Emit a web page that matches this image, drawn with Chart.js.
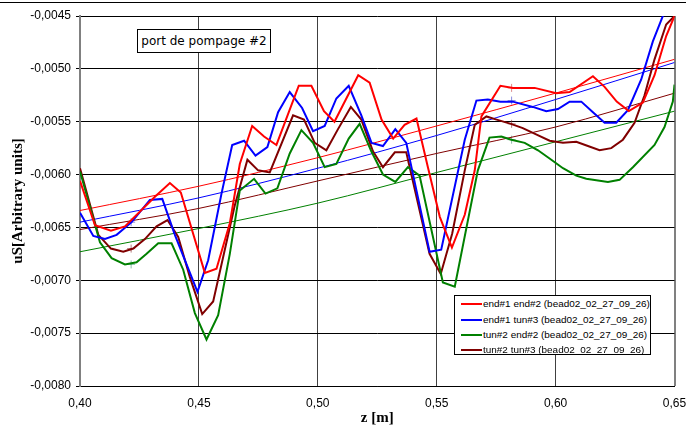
<!DOCTYPE html>
<html><head><meta charset="utf-8">
<script src="https://cdn.jsdelivr.net/npm/chart.js@4/dist/chart.umd.min.js"></script>
<style>
html,body{margin:0;padding:0;background:#fff;}
#wrap{position:relative;width:686px;height:428px;overflow:hidden;background:#fff;}
#topline{position:absolute;left:0;top:2px;width:686px;height:1px;background:#000;z-index:3;}
canvas{position:absolute;left:0;top:0;}
#note{position:absolute;left:137px;top:29px;width:132px;height:22px;border:1px solid #000;background:#fff;font-family:"DejaVu Sans",sans-serif;font-size:12px;line-height:22px;text-align:center;color:#000;z-index:2;white-space:nowrap;}
#legend{position:absolute;left:454px;top:295px;width:195px;height:58px;border:1px solid #000;background:#fff;font-family:"Liberation Sans",Arial,sans-serif;font-size:9.95px;color:#000;z-index:2;}
.row{position:absolute;left:0;width:195px;height:12px;}
.sw{position:absolute;left:6px;top:5px;width:21px;height:2px;}
.lb{position:absolute;left:28px;top:0;line-height:12px;white-space:nowrap;}
</style></head>
<body>
<div id="wrap">
<canvas id="c" width="686" height="428"></canvas>
<div id="topline"></div>
<div id="note"></div>
<div id="legend"></div>
</div>
<script>
// ---- data ----
const noteText = 'port de pompage #2';
const xTitle = 'z [m]';
const yTitle = 'uS[Arbitrary units]';
const xTickValues = [0.40, 0.45, 0.50, 0.55, 0.60, 0.65];
const xTickLabels = ['0,40', '0,45', '0,50', '0,55', '0,60', '0,65'];
const yTickValues = [-0.0080, -0.0075, -0.0070, -0.0065, -0.0060, -0.0055, -0.0050, -0.0045];
const yTickLabels = ['-0,0080', '-0,0075', '-0,0070', '-0,0065', '-0,0060', '-0,0055', '-0,0050', '-0,0045'];

const seriesLabels = [
  'end#1 end#2 (bead02_02_27_09_26)',
  'end#1 tun#3 (bead02_02_27_09_26)',
  'tun#2 end#2 (bead02_02_27_09_26)',
  'tun#2 tun#3 (bead02_02_27_09_26)'
];
const seriesColors = ['#ff0000', '#0000ff', '#008000', '#800000'];

const zRed = [0.400,0.4063,0.4130,0.4189,0.4315,0.4378,0.4424,0.4525,0.4574,0.4630,0.4672,0.4724,0.4774,0.4826,0.4920,0.4973,0.5026,0.5070,0.5170,0.5218,0.5268,0.5317,0.5365,0.5415,0.5463,0.5513,0.5564,0.5618,0.5660,0.5688,0.5768,0.5821,0.5912,0.6003,0.6059,0.6157,0.6206,0.6257,0.6308,0.6367,0.6416,0.6465,0.6500];
const yRed = [-0.00606,-0.00648,-0.00653,-0.00649,-0.00621,-0.00608,-0.00617,-0.00693,-0.00689,-0.00646,-0.00590,-0.00554,-0.00564,-0.00572,-0.00516,-0.00516,-0.00540,-0.00550,-0.00506,-0.00513,-0.00548,-0.00566,-0.00553,-0.00547,-0.00593,-0.00640,-0.00669,-0.00638,-0.00596,-0.00545,-0.00516,-0.00518,-0.00518,-0.00523,-0.00522,-0.00507,-0.00517,-0.00531,-0.00540,-0.00532,-0.00506,-0.00469,-0.00450];

const zBlue = [0.400,0.4056,0.4105,0.4154,0.4217,0.4294,0.4346,0.4399,0.4494,0.4539,0.4595,0.4640,0.4690,0.4738,0.4788,0.4833,0.4882,0.4934,0.4980,0.5029,0.5078,0.5130,0.5183,0.5226,0.5274,0.5326,0.5372,0.5470,0.5519,0.5618,0.5667,0.5715,0.5768,0.5820,0.5904,0.5961,0.6010,0.6059,0.6108,0.6157,0.6206,0.6255,0.6304,0.6360,0.6409,0.6458];
const yBlue = [-0.00636,-0.00658,-0.00661,-0.00657,-0.00645,-0.00624,-0.00623,-0.00657,-0.00711,-0.00681,-0.00618,-0.00572,-0.00568,-0.00582,-0.00574,-0.00541,-0.00522,-0.00537,-0.00559,-0.00554,-0.00528,-0.00516,-0.00544,-0.00570,-0.00573,-0.00557,-0.00570,-0.00673,-0.00671,-0.00567,-0.00530,-0.00529,-0.00531,-0.00531,-0.00536,-0.00540,-0.00538,-0.00531,-0.00531,-0.00541,-0.00551,-0.00551,-0.00539,-0.00510,-0.00474,-0.00446];

const zGreen = [0.400,0.4084,0.4133,0.4189,0.4238,0.4280,0.4329,0.4385,0.4434,0.4483,0.4532,0.4581,0.4630,0.4672,0.4732,0.4780,0.4830,0.4882,0.4931,0.4980,0.5029,0.5078,0.5130,0.5176,0.5225,0.5274,0.5326,0.5379,0.5428,0.5526,0.5576,0.5673,0.5722,0.5772,0.5814,0.5870,0.5926,0.5982,0.6031,0.6087,0.6129,0.6220,0.6269,0.6325,0.6416,0.6458,0.6493,0.6500];
const yGreen = [-0.00597,-0.00664,-0.00679,-0.00685,-0.00683,-0.00675,-0.00665,-0.00665,-0.00690,-0.00731,-0.00756,-0.00733,-0.00675,-0.00615,-0.00604,-0.00618,-0.00613,-0.00580,-0.00558,-0.00570,-0.00593,-0.00590,-0.00566,-0.00552,-0.00578,-0.00600,-0.00607,-0.00593,-0.00601,-0.00702,-0.00706,-0.00596,-0.00565,-0.00564,-0.00567,-0.00570,-0.00577,-0.00586,-0.00594,-0.00601,-0.00604,-0.00607,-0.00605,-0.00593,-0.00572,-0.00555,-0.00531,-0.00515];

const zDark = [0.400,0.4077,0.4130,0.4182,0.4224,0.4273,0.4322,0.4368,0.4413,0.4462,0.4514,0.4560,0.4650,0.4704,0.4749,0.4798,0.4896,0.4942,0.4987,0.5036,0.5085,0.5139,0.5183,0.5232,0.5274,0.5324,0.5372,0.5470,0.5517,0.5565,0.5618,0.5660,0.5709,0.5752,0.5812,0.5862,0.5918,0.5975,0.6031,0.6087,0.6136,0.6185,0.6234,0.6283,0.6332,0.6374,0.6416,0.6465,0.6500];
const yDark = [-0.00594,-0.00657,-0.00670,-0.00673,-0.00670,-0.00661,-0.00649,-0.00643,-0.00659,-0.00697,-0.00732,-0.00720,-0.00630,-0.00586,-0.00596,-0.00598,-0.00544,-0.00548,-0.00570,-0.00577,-0.00557,-0.00536,-0.00548,-0.00578,-0.00593,-0.00579,-0.00579,-0.00675,-0.00694,-0.00656,-0.00596,-0.00553,-0.00545,-0.00548,-0.00552,-0.00556,-0.00562,-0.00568,-0.00570,-0.00569,-0.00573,-0.00577,-0.00575,-0.00567,-0.00551,-0.00525,-0.00491,-0.00458,-0.00450];

// trend lines (read at grid positions)
const zFit = [0.40, 0.45, 0.50, 0.55, 0.60, 0.65];
const redFit = [-0.00634, -0.00611, -0.00584, -0.00554, -0.00523, -0.00491];
const blueFit = [-0.00645, -0.00622, -0.00594, -0.00563, -0.00529, -0.00494];
const greenFit = [-0.00673, -0.00651, -0.00627, -0.00598, -0.00569, -0.00540];
const darkFit = [-0.00652, -0.00632, -0.00606, -0.00580, -0.00555, -0.00523];

// "+" markers
const zMark = [0.4215, 0.5815];
const redMark = [null, -0.00518];
const blueMark = [-0.00645, -0.00530];
const greenMark = [-0.00685, -0.00567];
const darkMark = [-0.00670, -0.00552];

// ---- build ----
const pts = (zs, ys) => zs.map((z, i) => ({x: z, y: ys[i]}));
const mains = [[zRed, yRed], [zBlue, yBlue], [zGreen, yGreen], [zDark, yDark]];
const fits = [redFit, blueFit, greenFit, darkFit];
const marks = [redMark, blueMark, greenMark, darkMark];
const markColors = ['rgba(200,60,60,0.6)', 'rgba(60,60,200,0.6)', 'rgba(60,150,110,0.6)', 'rgba(130,40,40,0.6)'];

const datasets = [];
mains.forEach((m, i) => datasets.push({
  label: seriesLabels[i], data: pts(m[0], m[1]), borderColor: seriesColors[i],
  borderWidth: 2, pointRadius: 0, fill: false, tension: 0
}));
fits.forEach((f, i) => datasets.push({
  label: 'fit ' + i, data: pts(zFit, f), borderColor: seriesColors[i],
  borderWidth: 1, pointRadius: 0, fill: false, cubicInterpolationMode: 'monotone'
}));
marks.forEach((mk, i) => datasets.push({
  label: 'mark ' + i, data: pts(zMark, mk).filter(p => p.y !== null), showLine: false,
  pointStyle: 'cross', pointRadius: 4, pointBorderWidth: 1,
  borderColor: markColors[i], backgroundColor: markColors[i]
}));

document.getElementById('note').textContent = noteText;
const lg = document.getElementById('legend');
seriesLabels.forEach((t, i) => {
  const r = document.createElement('div');
  r.className = 'row';
  r.style.top = (2.3 + 15.2 * i) + 'px';
  r.innerHTML = '<div class="sw" style="background:' + seriesColors[i] + '"></div><div class="lb"></div>';
  r.querySelector('.lb').textContent = t;
  lg.appendChild(r);
});

new Chart(document.getElementById('c'), {
  type: 'line',
  data: {datasets},
  options: {
    responsive: false, animation: false, devicePixelRatio: 1,
    layout: {padding: {left: 0, right: 0, top: 16, bottom: 0}},
    plugins: {legend: {display: false}, tooltip: {enabled: false}},
    scales: {
      x: {
        type: 'linear', min: 0.40, max: 0.65,
        afterBuildTicks: s => { s.ticks = xTickValues.map(v => ({value: v})); },
        afterFit: s => { s.height = 42; s.paddingRight = 11.5; s.paddingLeft = 0; },
        ticks: {callback: (v, i) => xTickLabels[i], autoSkip: false, maxRotation: 0,
                font: {family: 'Liberation Sans', size: 12}, color: '#000', padding: 10.5},
        grid: {drawTicks: false,
               color: c => (c.index === 0 || c.index === xTickValues.length - 1) ? '#808080' : '#404040',
               lineWidth: c => (c.index === xTickValues.length - 1) ? 2 : 1},
        border: {color: '#000', width: 1},
        title: {display: true, text: xTitle, color: '#000',
                font: {family: 'Liberation Serif', size: 15, weight: 'bold'}, padding: {top: 0, bottom: 1}}
      },
      y: {
        type: 'linear', min: -0.0080, max: -0.0045,
        afterBuildTicks: s => { s.ticks = yTickValues.map(v => ({value: v})); },
        afterFit: s => { s.width = 80; },
        ticks: {callback: (v, i) => yTickLabels[i], autoSkip: false,
                font: {family: 'Liberation Sans', size: 12}, color: '#000', padding: 5},
        grid: {color: '#000', lineWidth: 1, tickLength: 4},
        border: {color: '#808080', width: 2},
        title: {display: true, text: yTitle, color: '#000',
                font: {family: 'Liberation Serif', size: 15, weight: 'bold'}, padding: {top: 9, bottom: 0}}
      }
    }
  }
});
</script>
</body></html>
